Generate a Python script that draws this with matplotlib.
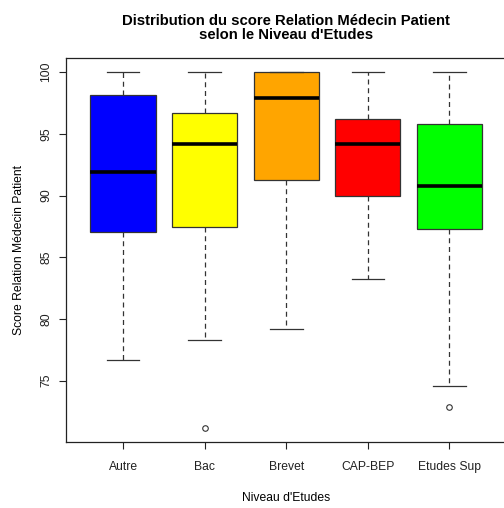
import matplotlib
matplotlib.use("Agg")
import matplotlib.pyplot as plt

plt.rcParams['font.family'] = ['Liberation Sans', 'DejaVu Sans']

# niveaux d'etudes et statistiques
niveaux = ['Autre', 'Bac', 'Brevet', 'CAP-BEP', 'Etudes Sup']
couleurs = ['#0000FF', '#FFFF00', '#FFA500', '#FF0000', '#00FF00']
minimum = [76.7, 78.26, 79.18, 83.25, 74.54]
q1 = [87.08, 87.48, 91.26, 89.95, 87.27]
mediane = [91.89, 94.20, 97.92, 94.20, 90.78]
q3 = [98.14, 96.71, 100.0, 96.20, 95.79]
maximum = [100.0, 100.0, 100.0, 100.0, 100.0]
aberrants = [[], [71.17], [], [], [72.84]]

stats = []
for i, nom in enumerate(niveaux):
    stats.append({'label': nom, 'whislo': minimum[i], 'q1': q1[i], 'med': mediane[i],
                  'q3': q3[i], 'whishi': maximum[i], 'fliers': aberrants[i]})

fig = plt.figure(figsize=(5.04, 5.08), dpi=100)
ax = fig.add_axes([66 / 504, 66 / 508, 440.5 / 504, 384 / 508])

bp = ax.bxp(stats, positions=range(1, 6), widths=0.8, patch_artist=True,
            boxprops=dict(edgecolor='#333333', linewidth=0.9),
            medianprops=dict(color='black', linewidth=2.6, solid_capstyle='butt'),
            whiskerprops=dict(color='#333333', linestyle=(0, (4, 3)), linewidth=0.9),
            capprops=dict(color='#333333', linewidth=0.9),
            capwidths=0.4,
            flierprops=dict(marker='o', markerfacecolor='none', markeredgecolor='#333333',
                            markersize=4, markeredgewidth=0.8))
for patch, c in zip(bp['boxes'], couleurs):
    patch.set_facecolor(c)

ax.set_xlim(0.3, 5.7)
ax.set_ylim(70.02, 101.15)
ax.set_yticks([75, 80, 85, 90, 95, 100])
ax.set_xticks(range(1, 6))
ax.set_xticklabels(niveaux)
for lab in ax.get_yticklabels():
    lab.set_rotation(90)
    lab.set_va('center')
ax.tick_params(axis='both', direction='out', length=5, width=0.8, labelsize=8.7, colors='#222222')
ax.tick_params(axis='x', pad=8.5)
ax.tick_params(axis='y', pad=5)
for s in ax.spines.values():
    s.set_linewidth(0.9)
    s.set_color('#222222')

ax.set_title("Distribution du score Relation Médecin Patient\nselon le Niveau d'Etudes",
             fontsize=10.7, fontweight='bold', linespacing=1.0, pad=14)
ax.set_ylabel('Score Relation Médecin Patient', fontsize=8.7, labelpad=11)
ax.set_xlabel("Niveau d'Etudes", fontsize=8.7, labelpad=14)

fig.savefig('out.png', dpi=100)
